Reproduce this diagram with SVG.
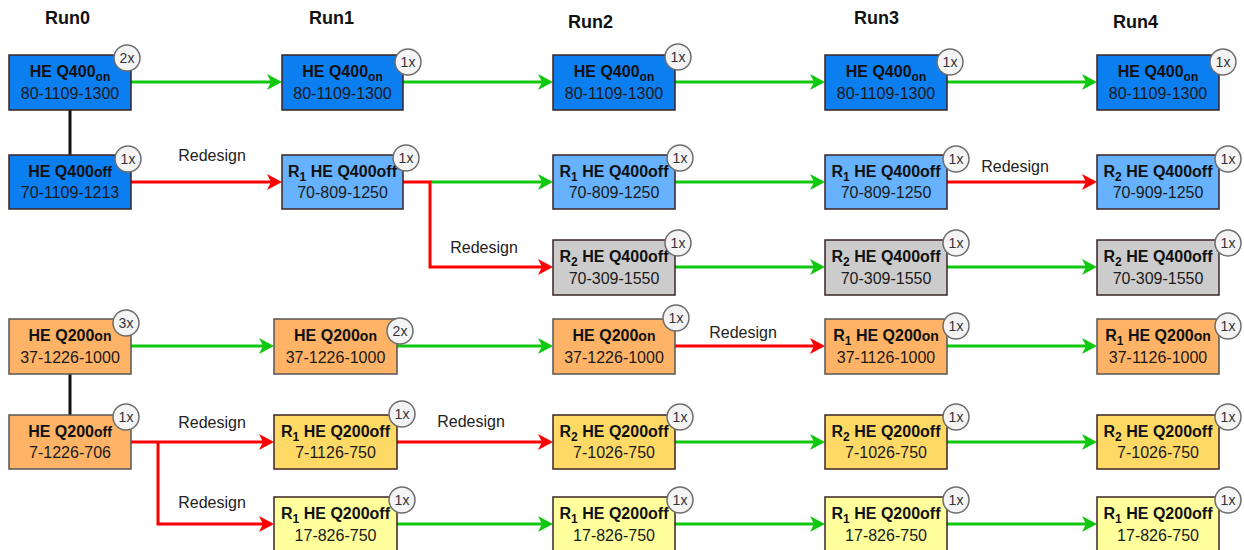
<svg xmlns="http://www.w3.org/2000/svg" width="1244" height="550" viewBox="0 0 1244 550">
<style>
text{font-family:"Liberation Sans",Arial,sans-serif;fill:#111}
.hdr{font-size:18px;font-weight:bold}
.t{font-size:16px;font-weight:bold;text-anchor:middle}
.s{font-size:12px}
.n{font-size:16px;text-anchor:middle;fill:#1a1a1a}
.lbl{font-size:16px;text-anchor:middle;fill:#222}
.bd circle{fill:#f4f4f4;stroke:#6e6e6e;stroke-width:1.5}
.bd text{font-size:14px;text-anchor:middle;fill:#333}
.box{stroke:#3d2323;stroke-width:1.5}
.dk{fill:#0b7ef0}
.lb{fill:#66b2ff}
.gr{fill:#cccccc}
.or{fill:#ffb366;stroke:#555555}
.yo{fill:#ffd966}
.py{fill:#ffff9c}
.g{fill:none;stroke:#11c811;stroke-width:3;marker-end:url(#ag)}
.r{fill:none;stroke:#ff0000;stroke-width:3;marker-end:url(#ar)}
.k{fill:none;stroke:#111;stroke-width:3}
</style>
<defs>
<marker id="ag" markerUnits="userSpaceOnUse" markerWidth="16" markerHeight="18" refX="5" refY="8" orient="auto"><path d="M0,0 L15,8 L0,16 L4,8 z" fill="#11c811"/></marker>
<marker id="ar" markerUnits="userSpaceOnUse" markerWidth="16" markerHeight="18" refX="5" refY="8" orient="auto"><path d="M0,0 L15,8 L0,16 L4,8 z" fill="#ff0000"/></marker>
</defs>
<rect width="1244" height="550" fill="#ffffff"/>
<g id="headers">
<text class="hdr" x="45" y="24">Run0</text>
<text class="hdr" x="309" y="24">Run1</text>
<text class="hdr" x="568" y="28">Run2</text>
<text class="hdr" x="854" y="24">Run3</text>
<text class="hdr" x="1113" y="28">Run4</text>
</g>
<g id="connectors">
<path class="k" d="M70,110 V155"/>
<path class="k" d="M70,374 V415"/>
<path class="g" d="M131,82 H272"/>
<path class="g" d="M403,82 H543"/>
<path class="g" d="M675,82 H815"/>
<path class="g" d="M947,82 H1087"/>
<path class="r" d="M131,182 H272"/>
<path class="g" d="M430,182 H543"/>
<path class="r" d="M403,182 H430 V267 H543"/>
<path class="g" d="M675,182 H815"/>
<path class="r" d="M947,182 H1087"/>
<path class="g" d="M675,267 H815"/>
<path class="g" d="M947,267 H1087"/>
<path class="g" d="M131,346 H264"/>
<path class="g" d="M397,346 H543"/>
<path class="r" d="M675,346 H815"/>
<path class="g" d="M947,346 H1087"/>
<path class="r" d="M131,442 H264"/>
<path class="r" d="M158,442 V524 H264"/>
<path class="r" d="M397,442 H543"/>
<path class="g" d="M675,442 H815"/>
<path class="g" d="M947,442 H1087"/>
<path class="g" d="M397,524 H543"/>
<path class="g" d="M675,524 H815"/>
<path class="g" d="M947,524 H1087"/>
<text class="lbl" x="212" y="161">Redesign</text>
<text class="lbl" x="484" y="253">Redesign</text>
<text class="lbl" x="1015" y="172">Redesign</text>
<text class="lbl" x="743" y="338">Redesign</text>
<text class="lbl" x="212" y="428">Redesign</text>
<text class="lbl" x="471" y="427">Redesign</text>
<text class="lbl" x="212" y="508">Redesign</text>
</g>
<g id="n00"><rect class="box dk" x="9" y="55" width="122" height="55"/><text class="t" x="70" y="77">HE Q400<tspan class="s" dy="4">on</tspan></text><text class="n" x="70" y="99">80-1109-1300</text><g class="bd"><circle cx="127" cy="58" r="13"/><text x="127" y="63">2x</text></g></g>
<g id="n01"><rect class="box dk" x="282" y="55" width="121" height="55"/><text class="t" x="342.5" y="77">HE Q400<tspan class="s" dy="4">on</tspan></text><text class="n" x="342.5" y="99">80-1109-1300</text><g class="bd"><circle cx="408" cy="62" r="13"/><text x="408" y="67">1x</text></g></g>
<g id="n02"><rect class="box dk" x="553" y="55" width="122" height="55"/><text class="t" x="614" y="77">HE Q400<tspan class="s" dy="4">on</tspan></text><text class="n" x="614" y="99">80-1109-1300</text><g class="bd"><circle cx="678" cy="57" r="13"/><text x="678" y="62">1x</text></g></g>
<g id="n03"><rect class="box dk" x="825" y="55" width="122" height="55"/><text class="t" x="886" y="77">HE Q400<tspan class="s" dy="4">on</tspan></text><text class="n" x="886" y="99">80-1109-1300</text><g class="bd"><circle cx="950" cy="62" r="13"/><text x="950" y="67">1x</text></g></g>
<g id="n04"><rect class="box dk" x="1097" y="55" width="122" height="55"/><text class="t" x="1158" y="77">HE Q400<tspan class="s" dy="4">on</tspan></text><text class="n" x="1158" y="99">80-1109-1300</text><g class="bd"><circle cx="1223" cy="62" r="13"/><text x="1223" y="67">1x</text></g></g>

<g id="n10"><rect class="box dk" x="9" y="155" width="122" height="54"/><text class="t" x="70" y="177">HE Q400<tspan style="font-size:14px">off</tspan></text><text class="n" x="70" y="198">70-1109-1213</text><g class="bd"><circle cx="128" cy="159" r="13"/><text x="128" y="164">1x</text></g></g>
<g id="n11"><rect class="box lb" x="282" y="155" width="121" height="54"/><text class="t" x="342.5" y="177">R<tspan class="s" dy="4">1</tspan><tspan dy="-4"> HE Q400off</tspan></text><text class="n" x="342.5" y="198">70-809-1250</text><g class="bd"><circle cx="406" cy="158" r="13"/><text x="406" y="163">1x</text></g></g>
<g id="n12"><rect class="box lb" x="553" y="155" width="122" height="54"/><text class="t" x="614" y="177">R<tspan class="s" dy="4">1</tspan><tspan dy="-4"> HE Q400off</tspan></text><text class="n" x="614" y="198">70-809-1250</text><g class="bd"><circle cx="680" cy="158" r="13"/><text x="680" y="163">1x</text></g></g>
<g id="n13"><rect class="box lb" x="825" y="155" width="122" height="54"/><text class="t" x="886" y="177">R<tspan class="s" dy="4">1</tspan><tspan dy="-4"> HE Q400off</tspan></text><text class="n" x="886" y="198">70-809-1250</text><g class="bd"><circle cx="956" cy="159" r="13"/><text x="956" y="164">1x</text></g></g>
<g id="n14"><rect class="box lb" x="1097" y="155" width="122" height="54"/><text class="t" x="1158" y="177">R<tspan class="s" dy="4">2</tspan><tspan dy="-4"> HE Q400off</tspan></text><text class="n" x="1158" y="198">70-909-1250</text><g class="bd"><circle cx="1228" cy="159" r="13"/><text x="1228" y="164">1x</text></g></g>

<g id="n22"><rect class="box gr" x="553" y="240" width="122" height="55"/><text class="t" x="614" y="262">R<tspan class="s" dy="4">2</tspan><tspan dy="-4"> HE Q400off</tspan></text><text class="n" x="614" y="284">70-309-1550</text><g class="bd"><circle cx="678" cy="243" r="13"/><text x="678" y="248">1x</text></g></g>
<g id="n23"><rect class="box gr" x="825" y="240" width="122" height="55"/><text class="t" x="886" y="262">R<tspan class="s" dy="4">2</tspan><tspan dy="-4"> HE Q400off</tspan></text><text class="n" x="886" y="284">70-309-1550</text><g class="bd"><circle cx="956" cy="243" r="13"/><text x="956" y="248">1x</text></g></g>
<g id="n24"><rect class="box gr" x="1097" y="240" width="122" height="55"/><text class="t" x="1158" y="262">R<tspan class="s" dy="4">2</tspan><tspan dy="-4"> HE Q400off</tspan></text><text class="n" x="1158" y="284">70-309-1550</text><g class="bd"><circle cx="1228" cy="243" r="13"/><text x="1228" y="248">1x</text></g></g>

<g id="n30"><rect class="box or" x="9" y="319" width="122" height="55"/><text class="t" x="70" y="341">HE Q200<tspan style="font-size:14px">on</tspan></text><text class="n" x="70" y="363">37-1226-1000</text><g class="bd"><circle cx="126" cy="323" r="13"/><text x="126" y="328">3x</text></g></g>
<g id="n31"><rect class="box or" x="274" y="319" width="123" height="55"/><text class="t" x="335.5" y="341">HE Q200<tspan style="font-size:14px">on</tspan></text><text class="n" x="335.5" y="363">37-1226-1000</text><g class="bd"><circle cx="400" cy="331" r="13"/><text x="400" y="336">2x</text></g></g>
<g id="n32"><rect class="box or" x="553" y="319" width="122" height="55"/><text class="t" x="614" y="341">HE Q200<tspan style="font-size:14px">on</tspan></text><text class="n" x="614" y="363">37-1226-1000</text><g class="bd"><circle cx="676" cy="318" r="13"/><text x="676" y="323">1x</text></g></g>
<g id="n33"><rect class="box or" x="825" y="319" width="122" height="55"/><text class="t" x="886" y="341">R<tspan class="s" dy="4">1</tspan><tspan dy="-4"> HE Q200</tspan><tspan style="font-size:14px">on</tspan></text><text class="n" x="886" y="363">37-1126-1000</text><g class="bd"><circle cx="956" cy="326" r="13"/><text x="956" y="331">1x</text></g></g>
<g id="n34"><rect class="box or" x="1097" y="319" width="122" height="55"/><text class="t" x="1158" y="341">R<tspan class="s" dy="4">1</tspan><tspan dy="-4"> HE Q200</tspan><tspan style="font-size:14px">on</tspan></text><text class="n" x="1158" y="363">37-1126-1000</text><g class="bd"><circle cx="1228" cy="326" r="13"/><text x="1228" y="331">1x</text></g></g>

<g id="n40"><rect class="box or" x="9" y="415" width="122" height="54"/><text class="t" x="70" y="437">HE Q200<tspan style="font-size:14px">off</tspan></text><text class="n" x="70" y="458">7-1226-706</text><g class="bd"><circle cx="126" cy="417" r="13"/><text x="126" y="422">1x</text></g></g>
<g id="n41"><rect class="box yo" x="274" y="415" width="123" height="54"/><text class="t" x="335.5" y="437">R<tspan class="s" dy="4">1</tspan><tspan dy="-4"> HE Q200off</tspan></text><text class="n" x="335.5" y="458">7-1126-750</text><g class="bd"><circle cx="402" cy="414" r="13"/><text x="402" y="419">1x</text></g></g>
<g id="n42"><rect class="box yo" x="553" y="415" width="122" height="54"/><text class="t" x="614" y="437">R<tspan class="s" dy="4">2</tspan><tspan dy="-4"> HE Q200off</tspan></text><text class="n" x="614" y="458">7-1026-750</text><g class="bd"><circle cx="680" cy="417" r="13"/><text x="680" y="422">1x</text></g></g>
<g id="n43"><rect class="box yo" x="825" y="415" width="122" height="54"/><text class="t" x="886" y="437">R<tspan class="s" dy="4">2</tspan><tspan dy="-4"> HE Q200off</tspan></text><text class="n" x="886" y="458">7-1026-750</text><g class="bd"><circle cx="956" cy="417" r="13"/><text x="956" y="422">1x</text></g></g>
<g id="n44"><rect class="box yo" x="1097" y="415" width="122" height="54"/><text class="t" x="1158" y="437">R<tspan class="s" dy="4">2</tspan><tspan dy="-4"> HE Q200off</tspan></text><text class="n" x="1158" y="458">7-1026-750</text><g class="bd"><circle cx="1228" cy="417" r="13"/><text x="1228" y="422">1x</text></g></g>

<g id="n51"><rect class="box py" x="274" y="497" width="123" height="55"/><text class="t" x="335.5" y="519">R<tspan class="s" dy="4">1</tspan><tspan dy="-4"> HE Q200off</tspan></text><text class="n" x="335.5" y="541">17-826-750</text><g class="bd"><circle cx="402" cy="500" r="13"/><text x="402" y="505">1x</text></g></g>
<g id="n52"><rect class="box py" x="553" y="497" width="122" height="55"/><text class="t" x="614" y="519">R<tspan class="s" dy="4">1</tspan><tspan dy="-4"> HE Q200off</tspan></text><text class="n" x="614" y="541">17-826-750</text><g class="bd"><circle cx="680" cy="500" r="13"/><text x="680" y="505">1x</text></g></g>
<g id="n53"><rect class="box py" x="825" y="497" width="122" height="55"/><text class="t" x="886" y="519">R<tspan class="s" dy="4">1</tspan><tspan dy="-4"> HE Q200off</tspan></text><text class="n" x="886" y="541">17-826-750</text><g class="bd"><circle cx="956" cy="500" r="13"/><text x="956" y="505">1x</text></g></g>
<g id="n54"><rect class="box py" x="1097" y="497" width="122" height="55"/><text class="t" x="1158" y="519">R<tspan class="s" dy="4">1</tspan><tspan dy="-4"> HE Q200off</tspan></text><text class="n" x="1158" y="541">17-826-750</text><g class="bd"><circle cx="1228" cy="500" r="13"/><text x="1228" y="505">1x</text></g></g>
</svg>
